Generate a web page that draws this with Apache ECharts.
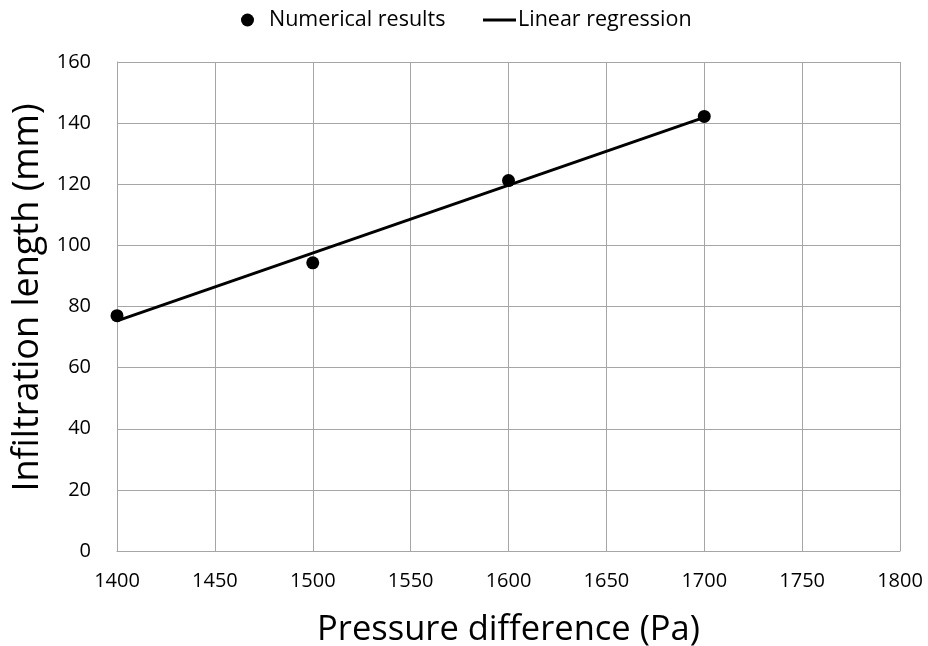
<!DOCTYPE html>
<html>
<head>
<meta charset="utf-8">
<script src="https://cdn.jsdelivr.net/npm/echarts@6/dist/echarts.min.js"></script>
<style>
  html, body { margin: 0; padding: 0; background: #fff; }
  #chart { width: 928px; height: 646px; }
</style>
</head>
<body>
<div id="chart"></div>
<script>
// values
const pressure = [1400, 1500, 1600, 1700];
const infiltration = [77.0, 94.3, 121.2, 142.2];
const fitX = [1400, 1700];
const fitY = [75.3, 141.9];

const chart = echarts.init(document.getElementById('chart'));
const font = 'Open Sans';

chart.setOption({
  animation: false,
  textStyle: { fontFamily: font },
  grid: { left: 117, right: 28, top: 62, bottom: 95, outerBoundsMode: 'none', containLabel: false },
  legend: [
    {
      data: [{ name: 'Numerical results', icon: 'circle' }],
      left: 236, top: 4,
      itemWidth: 13, itemHeight: 13,
      textStyle: { fontSize: 21.5, color: '#000', padding: [0, 0, 0, 10] }
    },
    {
      data: [{ name: 'Linear regression', icon: 'rect' }],
      left: 478, top: 4,
      itemWidth: 33, itemHeight: 3,
      textStyle: { fontSize: 21.5, color: '#000', padding: [0, 0, 0, -3] }
    }
  ],
  xAxis: {
    type: 'value',
    min: 1400, max: 1800, interval: 50,
    name: 'Pressure difference (Pa)',
    nameLocation: 'middle', nameGap: 62,
    nameTextStyle: { fontSize: 34.5, color: '#000' },
    axisLine: { lineStyle: { color: '#a6a6a6' } },
    axisTick: { show: false },
    axisLabel: { fontSize: 20, color: '#000', margin: 20, formatter: v => String(v) },
    splitLine: { lineStyle: { color: '#a6a6a6' } }
  },
  yAxis: {
    type: 'value',
    min: 0, max: 160, interval: 20,
    name: 'Infiltration length (mm)',
    nameLocation: 'middle', nameGap: 61, nameRotate: 90,
    nameTextStyle: { fontSize: 36, color: '#000', padding: [0, 0, 0, 18] },
    axisLine: { show: true, lineStyle: { color: '#a6a6a6' } },
    axisTick: { show: false },
    axisLabel: { fontSize: 20, color: '#000', margin: 26 },
    splitLine: { lineStyle: { color: '#a6a6a6' } }
  },
  series: [
    {
      name: 'Linear regression',
      type: 'line',
      data: fitX.map((x, i) => [x, fitY[i]]),
      symbol: 'none',
      lineStyle: { color: '#000', width: 3 },
      itemStyle: { color: '#000' },
      z: 2
    },
    {
      name: 'Numerical results',
      type: 'scatter',
      data: pressure.map((x, i) => [x, infiltration[i]]),
      symbol: 'circle',
      symbolSize: 13,
      itemStyle: { color: '#000', opacity: 1 },
      z: 3
    }
  ]
});
</script>
</body>
</html>
